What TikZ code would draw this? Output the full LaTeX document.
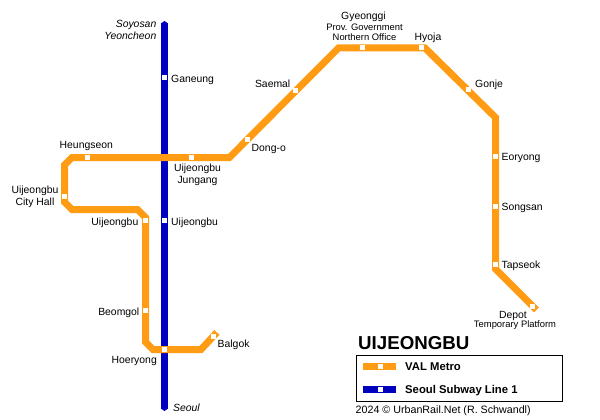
\documentclass[tikz,border=0pt]{standalone}
\usepackage{fontspec}
\setmainfont{Liberation Sans}
\usetikzlibrary{arrows.meta}
\definecolor{valorange}{HTML}{FF9C14}
\definecolor{subwayblue}{HTML}{0000BF}
\tikzset{
 stn/.style={fill=white,inner sep=0pt,minimum size=5pt},
 lbl/.style={inner sep=0pt,font=\fontsize{10.4}{11.5}\selectfont},
 sml/.style={inner sep=0pt,align=center,font=\fontsize{9.4}{10}\selectfont},
 valline/.style={draw=valorange,line width=7pt,line cap=rect,line join=miter},
 blueline/.style={draw=subwayblue,line width=7pt,{Triangle[width=7pt,length=2.5pt]}-{Triangle[width=7pt,length=2.5pt]}},
}
\begin{document}
\begin{tikzpicture}[x=1pt,y=-1pt]
 \useasboundingbox (0,0) rectangle (600,420);
 % stations
 \foreach \n/\x/\y in {ganeung/164.5/77.5,heungseon/87.5/157.5,jungang/191.5/157.5,
                       dongo/247/139,saemal/295.5/91,gyeonggi/362.5/48,hyoja/421.5/48,
                       gonje/468.5/90,eoryong/495.5/156,songsan/495.5/206,tapseok/495.5/264,
                       depot/532/306,cityhall/64.5/196.5,uijo/145.5/220.5,uijb/164.5/220.5,
                       beomgol/145.5/310.5,hoeryong/164.5/349.5,balgok/213.5/336}{
   \coordinate (\n) at (\x,\y);
 }
 % bends
 \foreach \n/\x/\y in {a/72/157.5,b/64.5/165,c/64.5/202,d/72/209.5,e/137.5/209.5,f/145.5/217.5,
                       g/145.5/342,h/153/349.5,i/201/349.5,j/229.5/157.5,k/338.5/48,
                       l/425/48,m/495.5/117.5,n/495.5/269,
                       balgokend/214.5/335,depotend/534/307.5}{
   \coordinate (\n) at (\x,\y);
 }
 \coordinate (north) at (164.5,21);
 \coordinate (south) at (164.5,411);
 \draw[blueline] (north) -- (south);
 \draw[valline] (balgokend) -- (i) -- (h) -- (g) -- (f) -- (e) -- (d) -- (c) -- (b) -- (a) -- (j)
   -- (k) -- (l) -- (m) -- (n) -- (depotend);
 \foreach \n in {ganeung,heungseon,jungang,dongo,saemal,gyeonggi,hyoja,gonje,eoryong,songsan,
                 tapseok,depot,cityhall,uijo,uijb,beomgol,hoeryong,balgok}{
   \node[stn] at (\n) {};
 }
 % labels
 \node[lbl,anchor=base west] (lganeung) at (171,82) {Ganeung};
 \node[lbl,anchor=base west] (lheung) at (59.5,148.5) {Heungseon};
 \node[lbl,anchor=base west] (ldongo) at (251.5,151) {Dong-o};
 \node[lbl,anchor=base east] (lsaemal) at (290.5,88) {Saemal};
 \node[lbl,anchor=base] (lgyeonggi) at (363.5,20) {Gyeonggi};
 \node[sml] (lprov) at (364.5,32) {Prov. Government\\Northern Office};
 \node[lbl,anchor=base west] (lhyoja) at (414.5,41) {Hyoja};
 \node[lbl,anchor=base west] (lgonje) at (475,87.5) {Gonje};
 \node[lbl,anchor=base west] (leoryong) at (501.5,160) {Eoryong};
 \node[lbl,anchor=base west] (lsongsan) at (501.5,210) {Songsan};
 \node[lbl,anchor=base west] (ltapseok) at (501.5,268) {Tapseok};
 \node[lbl,anchor=base] (ldepot) at (513,318) {Depot};
 \node[sml,anchor=base] (ltemp) at (515,327) {Temporary Platform};
 \node[lbl,align=center] (ljungang) at (197.5,175) {Uijeongbu\\[.7pt]Jungang};
 \node[lbl,align=center] (lcity) at (35,197) {Uijeongbu\\[.7pt]City Hall};
 \node[lbl,anchor=base east] (luijo) at (138.5,225) {Uijeongbu};
 \node[lbl,anchor=base west] (luijb) at (171,225) {Uijeongbu};
 \node[lbl,anchor=base east] (lbeomgol) at (139.5,315) {Beomgol};
 \node[lbl,anchor=base east] (lhoeryong) at (157,363) {Hoeryong};
 \node[lbl,anchor=base west] (lbalgok) at (217.5,347) {Balgok};
 \node[lbl,align=right,font=\fontsize{10.4}{11.5}\selectfont\itshape,anchor=east] (lnorth) at (156.5,30) {Soyosan\\Yeoncheon};
 \node[lbl,font=\fontsize{10.4}{11.5}\selectfont\itshape,anchor=base west] (lsouth) at (173,411) {Seoul};
 % legend
 \node[inner sep=0pt,anchor=base west,font=\fontsize{18.7}{20}\selectfont\bfseries] (title) at (358,349.5) {UIJEONGBU};
 \node[draw,line width=.8pt,inner sep=0pt,minimum width=206pt,minimum height=46pt,anchor=north west] (legend) at (355.5,355.3) {};
 \coordinate (va) at (363,366.7);
 \coordinate (vb) at (396,366.7);
 \coordinate (sa) at (363,389.7);
 \coordinate (sb) at (396,389.7);
 \draw[valorange,line width=7pt] (va) -- (vb);
 \draw[subwayblue,line width=7pt] (sa) -- (sb);
 \node[stn] (vs) at (380.5,366.7) {};
 \node[stn] (ss) at (380.5,389.7) {};
 \node[lbl,anchor=base west,font=\fontsize{11.3}{12}\selectfont\bfseries] (lval) at (405,370.3) {VAL Metro};
 \node[lbl,anchor=base west,font=\fontsize{11.3}{12}\selectfont\bfseries] (lseoul) at (405,393) {Seoul Subway Line 1};
 \node[lbl,anchor=base west,font=\fontsize{10.7}{12}\selectfont] (lcopy) at (355.5,413) {2024 © UrbanRail.Net (R. Schwandl)};
\end{tikzpicture}
\end{document}
